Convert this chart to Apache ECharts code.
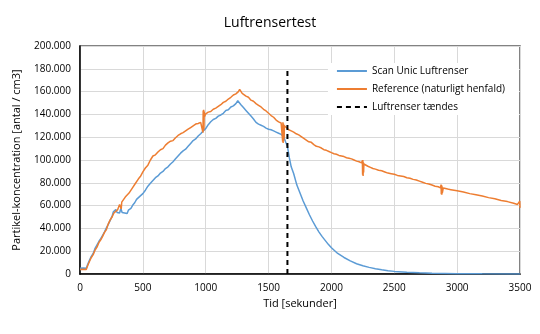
<!DOCTYPE html>
<html>
<head>
<meta charset="utf-8">
<script src="https://cdn.jsdelivr.net/npm/echarts@6/dist/echarts.min.js"></script>
<style>
  html, body { margin: 0; padding: 0; background: #fff; }
  #chart { width: 540px; height: 334px; }
</style>
</head>
<body>
<div id="chart"></div>
<script>
// Particle concentration over time, air purifier test (seconds, particles / cm3)
const scanTime = [0,25,50,60,75,90,105,120,135,150,165,180,195,210,225,240,255,265,275,285,295,305,315,325,335,345,355,365,375,385,395,405,420,435,450,465,480,500,520,540,560,580,600,620,640,660,680,700,720,740,760,780,800,820,840,860,880,900,920,940,960,980,1000,1020,1040,1060,1080,1100,1120,1140,1160,1180,1200,1220,1240,1255,1265,1280,1300,1320,1340,1360,1380,1400,1420,1440,1460,1480,1500,1520,1540,1560,1580,1600,1620,1635,1650,1665,1680,1700,1725,1750,1775,1800,1825,1850,1875,1900,1925,1950,1975,2000,2050,2100,2150,2200,2250,2300,2350,2400,2450,2500,2600,2700,2800,2900,3000,3200,3500];
const scanValue = [5000,5200,5000,8000,12000,15500,18000,22500,24000,28500,31000,34000,37000,40500,43500,47000,50500,54500,53500,56500,54000,55500,53500,57500,54000,55000,53500,54500,53000,56000,54500,57500,60500,62500,65500,66500,68500,70500,73500,77000,79500,82000,84500,86000,88500,90000,92500,94000,96500,98500,101000,103500,106000,108000,109500,112000,114500,117000,118500,121000,123000,125500,127500,131000,133500,135500,136500,138500,139500,141000,143500,144000,146500,147500,149500,152000,150500,148500,146000,143500,141000,138500,136000,133000,131500,130500,129500,128000,127000,126500,125500,124500,123500,122500,120500,116000,112000,102000,94000,88000,78000,71000,64000,58000,52000,46500,41500,37000,33000,29500,26000,23000,18000,14500,11500,9000,7200,5800,4600,3700,2900,2300,1500,1000,700,500,300,200,100];

const refTime = [0,25,50,60,75,90,105,120,135,150,165,180,195,210,225,240,255,270,285,300,315,328,332,345,360,375,390,405,420,435,450,465,480,500,520,540,560,580,600,620,640,660,680,700,720,740,760,780,800,820,840,860,880,900,920,940,960,975,978,980,982,984,986,988,990,1000,1020,1040,1060,1080,1100,1120,1140,1160,1180,1200,1220,1240,1260,1270,1280,1290,1300,1320,1340,1360,1380,1400,1420,1440,1460,1480,1500,1520,1540,1560,1580,1600,1610,1612,1614,1616,1618,1620,1622,1624,1626,1640,1660,1680,1700,1720,1740,1760,1780,1800,1820,1840,1860,1880,1900,1920,1940,1960,1980,2000,2020,2040,2060,2080,2100,2120,2140,2160,2180,2200,2220,2240,2246,2248,2250,2252,2254,2256,2258,2270,2290,2310,2330,2350,2375,2400,2425,2450,2475,2500,2525,2550,2575,2600,2625,2650,2675,2700,2725,2750,2775,2800,2825,2850,2868,2872,2874,2876,2878,2880,2882,2890,2925,2950,2975,3000,3050,3100,3150,3200,3250,3300,3350,3400,3450,3480,3495,3498,3500];
const refValue = [4000,4200,4000,7000,11000,14500,17000,21000,23500,27500,30000,33000,36500,39000,44000,47500,50000,53500,55000,56500,61000,57000,63000,62500,67500,69000,71000,72500,76000,78500,80000,83500,85500,89500,93000,95500,100000,103500,104500,107000,109000,110000,113000,115000,116500,117000,119500,121500,123000,124000,125500,127000,128500,130000,131500,132000,133000,133500,124000,143500,125500,144000,127000,142500,138000,140500,142000,142500,144500,145500,147000,148500,150500,151500,153500,155000,157000,158000,160000,162000,160500,158500,158000,156000,155000,152500,151500,149500,148000,146500,144500,143000,141000,139000,137500,135000,133500,132500,131500,116000,133000,115000,132000,117000,131000,119000,130000,128500,126500,125500,124500,123000,122000,120500,119000,117500,116000,115500,113500,112000,111500,110500,109000,108500,107500,106500,105500,105000,104000,103500,103000,102000,101500,101000,100000,99000,98500,97500,99500,87000,100000,86000,98000,89000,96500,95500,94500,93500,92500,92000,91000,90500,89500,88500,88000,87500,86500,86000,85500,84500,84000,83000,82500,81500,80500,79500,79000,78000,77000,76500,75500,78500,70000,78000,69500,77000,71000,75500,74500,74000,73500,73000,72000,70500,69500,68500,67000,66000,64500,63500,62000,61000,60000,64000,58000];

// Moment the purifier is switched on
const switchOnTime = [1650, 1650];
const switchOnValue = [0, 178000];

const seriesNames = ['Scan Unic Luftrenser', 'Reference (naturligt henfald)', 'Luftrenser tændes'];
const xTicks = [0, 3500, 500];
const yTicks = [0, 200000, 20000];

const pairs = (t, v) => t.map((x, i) => [x, v[i]]);
const fmtThousands = v => String(v).replace(/\B(?=(\d{3})+(?!\d))/g, '.');

const font = '"Open Sans", "Noto Sans", sans-serif';
const chart = echarts.init(document.getElementById('chart'), null, { renderer: 'canvas' });

chart.setOption({
  animation: false,
  backgroundColor: '#ffffff',
  textStyle: { fontFamily: font },
  title: {
    text: 'Luftrensertest',
    left: 'center',
    top: 11,
    textStyle: { fontFamily: font, fontSize: 14, fontWeight: 'normal', color: '#000' }
  },
  grid: {
    left: 80, right: 20, top: 46, bottom: 60,
    show: true, borderColor: '#595959', borderWidth: 1.5, backgroundColor: 'transparent'
  },
  legend: {
    show: true,
    orient: 'vertical',
    right: 21, top: 63,
    itemWidth: 30, itemHeight: 10, itemGap: 8,
    backgroundColor: '#ffffff',
    padding: [3, 14, 3, 8],
    itemStyle: { opacity: 0 },
    textStyle: { fontFamily: font, fontSize: 10, color: '#000' },
    data: seriesNames
  },
  xAxis: {
    type: 'value',
    min: xTicks[0], max: xTicks[1], interval: xTicks[2],
    name: 'Tid [sekunder]',
    nameLocation: 'middle', nameGap: 24,
    nameMoveOverlap: false,
    nameTextStyle: { fontFamily: font, fontSize: 11, color: '#000' },
    axisLine: { show: true, lineStyle: { color: '#000', width: 1.5 } },
    axisTick: { show: false },
    axisLabel: { fontFamily: font, fontSize: 10, color: '#000', margin: 9, formatter: v => String(v) },
    splitLine: { show: true, lineStyle: { color: '#d9d9d9', width: 1 } }
  },
  yAxis: {
    type: 'value',
    min: yTicks[0], max: yTicks[1], interval: yTicks[2],
    name: 'Partikel-koncentration [antal / cm3]',
    nameLocation: 'middle', nameGap: 58, nameRotate: 90,
    nameMoveOverlap: false,
    nameTextStyle: { fontFamily: font, fontSize: 11, color: '#000' },
    axisLine: { show: true, lineStyle: { color: '#000', width: 1.5 } },
    axisTick: { show: false },
    axisLabel: { fontFamily: font, fontSize: 10, color: '#000', margin: 9, formatter: fmtThousands },
    splitLine: { show: true, lineStyle: { color: '#d9d9d9', width: 1 } }
  },
  series: [
    {
      name: seriesNames[0], type: 'line', data: pairs(scanTime, scanValue),
      showSymbol: false, symbol: 'none',
      lineStyle: { color: '#5B9BD5', width: 1.5 }, itemStyle: { color: '#5B9BD5' }
    },
    {
      name: seriesNames[1], type: 'line', data: pairs(refTime, refValue),
      showSymbol: false, symbol: 'none',
      lineStyle: { color: '#ED7D31', width: 1.5 }, itemStyle: { color: '#ED7D31' }
    },
    {
      name: seriesNames[2], type: 'line', data: pairs(switchOnTime, switchOnValue),
      showSymbol: false, symbol: 'none',
      lineStyle: { color: '#000', width: 2, type: [5, 4] }, itemStyle: { color: '#000' }
    }
  ]
});
</script>
</body>
</html>
